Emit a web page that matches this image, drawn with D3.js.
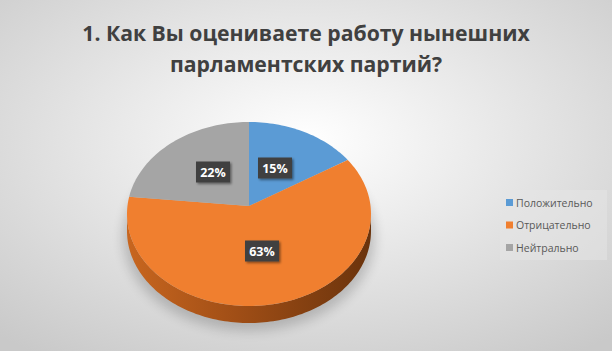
<!DOCTYPE html>
<html><head><meta charset="utf-8">
<script src="https://cdn.jsdelivr.net/npm/d3@7"></script>
<style>html,body{margin:0;padding:0;overflow:hidden;}svg{display:block;}</style>
</head><body>
<svg id="c" width="612" height="351"></svg>
<script>
const categories = ["Положительно", "Отрицательно", "Нейтрально"];
const values = [15, 63, 22];
const labels = ["15%", "63%", "22%"];
const colors = ["#5B9BD5", "#F07F2F", "#A5A5A5"];
const titleLines = ["1. Как Вы оцениваете работу нынешних", "парламентских партий?"];

const W = 612, H = 351;
const svg = d3.select("#c");
const defs = svg.append("defs");
const bg = defs.append("radialGradient").attr("id","bg").attr("cx","50%").attr("cy","40%").attr("r","75%");
bg.append("stop").attr("offset","0%").attr("stop-color","#ffffff");
bg.append("stop").attr("offset","100%").attr("stop-color","#c9c9c9");
const side = defs.append("linearGradient").attr("id","side").attr("x1","0").attr("x2","1").attr("y1","0").attr("y2","0");
side.append("stop").attr("offset","0%").attr("stop-color","#c8661f");
side.append("stop").attr("offset","45%").attr("stop-color","#a04e16");
side.append("stop").attr("offset","100%").attr("stop-color","#6a330c");
const blur = defs.append("filter").attr("id","blur").attr("x","-20%").attr("y","-20%").attr("width","140%").attr("height","140%");
blur.append("feGaussianBlur").attr("stdDeviation","6");
const ds = defs.append("filter").attr("id","ds").attr("x","-30%").attr("y","-30%").attr("width","160%").attr("height","160%");
ds.append("feDropShadow").attr("dx","1.5").attr("dy","1.5").attr("stdDeviation","1.2").attr("flood-color","#000").attr("flood-opacity","0.45");

svg.append("rect").attr("width",W).attr("height",H).attr("fill","url(#bg)");

// title
svg.append("g").selectAll("text").data(titleLines).join("text")
  .attr("x", 306).attr("y",(d,i)=>41+i*31)
  .attr("text-anchor","middle")
  .attr("font-family","'Open Sans', sans-serif").attr("font-weight","bold")
  .attr("font-size",21.2).attr("fill","#404040").text(d=>d);

// pie (3D ellipse with perspective-shifted apex)
const cx = 249, cy = 214, rx = 122, ry = 92, depth = 17, apexY = 206;
const pie = d3.pie().sort(null).value(d=>d)(values);
const pt = (a, dy=0) => [cx + rx*Math.sin(a), cy - ry*Math.cos(a) + dy];
const rim = (a0,a1,dy=0) => { const n = Math.max(8, Math.ceil((a1-a0)*40)), r=[]; for(let j=0;j<=n;j++) r.push(pt(a0+(a1-a0)*j/n,dy)); return r; };

// shadow
svg.append("ellipse").attr("cx",cx).attr("cy",cy+depth+6).attr("rx",rx+4).attr("ry",ry+2)
  .attr("fill","#000").attr("opacity",0.18).attr("filter","url(#blur)");

// side walls
const sideG = svg.append("g");
pie.forEach((s,i)=>{
  const a0 = Math.max(s.startAngle, Math.PI/2), a1 = Math.min(s.endAngle, 3*Math.PI/2);
  if (a1 <= a0) return;
  const poly = rim(a0,a1).concat(rim(a0,a1,depth).reverse());
  sideG.append("path").attr("d", d3.line()(poly)+"Z")
    .attr("fill", i===1 ? "url(#side)" : d3.color(colors[i]).darker(1));
});

// top faces
svg.append("g").selectAll("path").data(pie).join("path")
  .attr("d", s => d3.line()([[cx,apexY]].concat(rim(s.startAngle,s.endAngle)))+"Z")
  .attr("fill",(d,i)=>colors[i]);

// data labels
const labelPos = [[275,168],[262,251],[213,172]];
const lg = svg.append("g");
pie.forEach((s,i)=>{
  const [x,y] = labelPos[i];
  const g = lg.append("g").attr("transform",`translate(${x},${y})`);
  g.append("rect").attr("x",-17).attr("y",-10.5).attr("width",34).attr("height",21)
    .attr("fill","#404040").attr("filter","url(#ds)");
  g.append("text").attr("text-anchor","middle").attr("dy","0.36em")
    .attr("font-family","'Open Sans', sans-serif").attr("font-weight","bold").attr("font-size",12.5)
    .attr("fill","#fff").text(labels[i]);
});

// legend
const leg = svg.append("g");
leg.append("rect").attr("x",500).attr("y",190).attr("width",107).attr("height",70).attr("fill","#e6e6e6").attr("opacity",0.5);
categories.forEach((c,i)=>{
  const y = 203 + i*22.5;
  leg.append("rect").attr("x",506).attr("y",y-4).attr("width",7).attr("height",7).attr("fill",colors[i]);
  leg.append("text").attr("x",516).attr("y",y).attr("dy","0.35em")
    .attr("font-family","'Open Sans', sans-serif").attr("font-size",10.5).attr("fill","#595959").text(c);
});
</script>
</body></html>
